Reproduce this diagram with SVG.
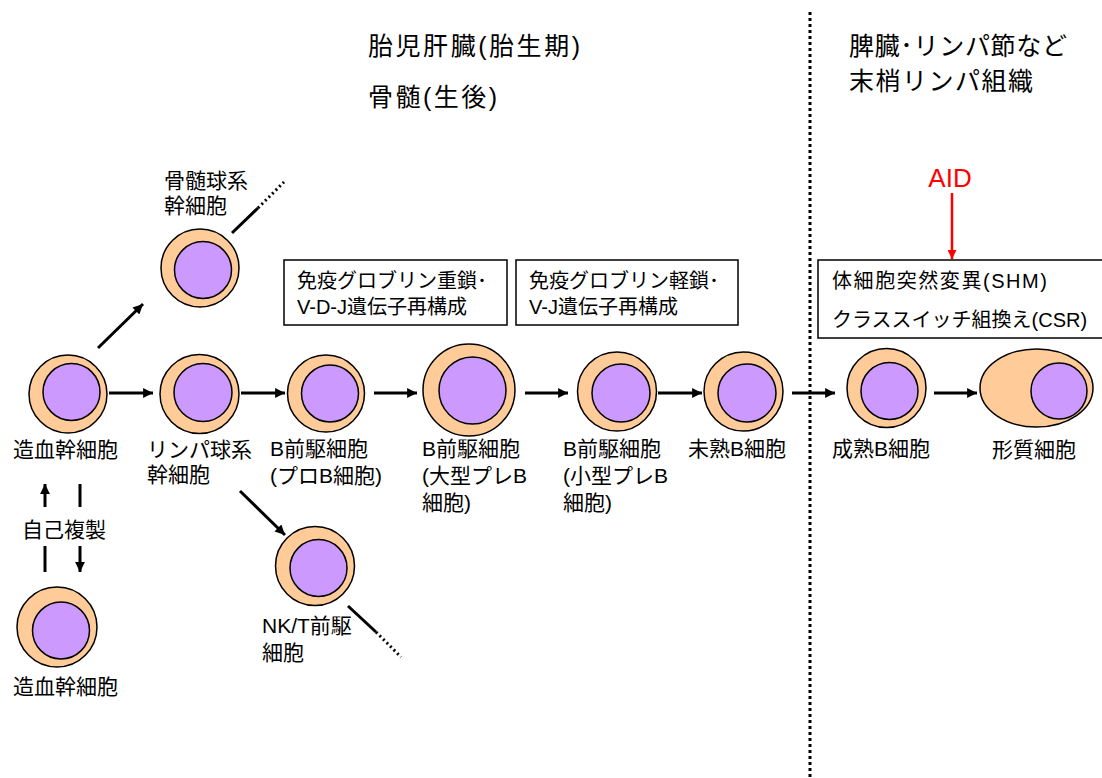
<svg xmlns="http://www.w3.org/2000/svg" width="1102" height="778" viewBox="0 0 1102 778">
  <style>
    text { font-family: "Liberation Sans", "Noto Sans CJK JP", sans-serif; fill: #000; }
    .lbl { font-size: 21px; }
    .box-text { font-size: 20px; }
    .head { font-size: 25px; }
    .aid { font-size: 26px; fill: #FF0000; }
    .cyto { fill: #FFCC99; stroke: #000; stroke-width: 1.5; }
    .nuc { fill: #CC99FF; stroke: #000; stroke-width: 1.5; }
    .box { fill: #FFFFFF; stroke: #000; stroke-width: 1.5; }
    .arrow { stroke: #000; stroke-width: 3; fill: none; marker-end: url(#head); }
    .line { stroke: #000; stroke-width: 3; fill: none; }
    .dots { stroke: #000; stroke-width: 3; fill: none; stroke-dasharray: 2 3; }
    .divider { stroke: #000; stroke-width: 3; fill: none; stroke-dasharray: 3 3; }
    .red-arrow { stroke: #FF0000; stroke-width: 2.5; fill: none; marker-end: url(#headRed); }
  </style>
  <defs>
    <marker id="head" viewBox="0 0 10 10" refX="10" refY="5" markerWidth="4" markerHeight="3.3" orient="auto" markerUnits="strokeWidth">
      <path d="M0,0 L10,5 L0,10 z" fill="#000"/>
    </marker>
    <marker id="headRed" viewBox="0 0 10 10" refX="10" refY="5" markerWidth="4" markerHeight="3.6" orient="auto" markerUnits="strokeWidth">
      <path d="M0,0 L10,5 L0,10 z" fill="#FF0000"/>
    </marker>
  </defs>

  <rect width="1102" height="778" fill="#FFFFFF"/>

  <!-- region headings and divider -->
  <g id="headings">
    <text class="head" x="368" y="55" textLength="212" lengthAdjust="spacing">胎児肝臓(胎生期)</text>
    <text class="head" x="368" y="106" textLength="129" lengthAdjust="spacing">骨髄(生後)</text>
    <text class="head" x="849" y="55" textLength="218" lengthAdjust="spacing">脾臓･リンパ節など</text>
    <text class="head" x="849" y="90" textLength="184" lengthAdjust="spacing">末梢リンパ組織</text>
  </g>
  <line class="divider" x1="810" y1="12" x2="810" y2="778"/>

  <!-- annotation boxes -->
  <g id="box-heavy">
    <rect class="box" x="284" y="260" width="223" height="65"/>
    <text class="box-text" x="297" y="288">免疫グロブリン重鎖･</text>
    <text class="box-text" x="297" y="314">V-D-J遺伝子再構成</text>
  </g>
  <g id="box-light">
    <rect class="box" x="516" y="260" width="222" height="65"/>
    <text class="box-text" x="529" y="288">免疫グロブリン軽鎖･</text>
    <text class="box-text" x="529" y="314">V-J遺伝子再構成</text>
  </g>
  <g id="box-shm">
    <rect class="box" x="818" y="260" width="300" height="78"/>
    <text class="box-text" x="832" y="288" textLength="215" lengthAdjust="spacing">体細胞突然変異(SHM)</text>
    <text class="box-text" x="832" y="327">クラススイッチ組換え(CSR)</text>
  </g>
  <g id="aid">
    <text class="aid" x="950" y="187" text-anchor="middle">AID</text>
  </g>

  <!-- cells -->
  <g id="hsc">
    <circle class="cyto" cx="68" cy="394" r="39"/>
    <circle class="nuc" cx="71.5" cy="392" r="28.5"/>
    <text class="lbl" x="13" y="457">造血幹細胞</text>
  </g>
  <g id="myeloid-stem">
    <text class="lbl" x="164" y="188">骨髄球系</text>
    <text class="lbl" x="164" y="213">幹細胞</text>
    <circle class="cyto" cx="200" cy="268" r="39"/>
    <circle class="nuc" cx="203" cy="270" r="28.5"/>
  </g>
  <g id="lymphoid-stem">
    <circle class="cyto" cx="199.5" cy="394" r="39.5"/>
    <circle class="nuc" cx="203" cy="392.5" r="29"/>
    <text class="lbl" x="147" y="457">リンパ球系</text>
    <text class="lbl" x="147" y="482">幹細胞</text>
  </g>
  <g id="pro-b">
    <circle class="cyto" cx="326" cy="393.5" r="38.5"/>
    <circle class="nuc" cx="330" cy="393.5" r="28.5"/>
    <text class="lbl" x="270" y="456">B前駆細胞</text>
    <text class="lbl" x="270" y="483">(プロB細胞)</text>
  </g>
  <g id="large-pre-b">
    <circle class="cyto" cx="469" cy="390" r="46"/>
    <circle class="nuc" cx="472.5" cy="390.5" r="33.5"/>
    <text class="lbl" x="422" y="456">B前駆細胞</text>
    <text class="lbl" x="422" y="483">(大型プレB</text>
    <text class="lbl" x="422" y="510">細胞)</text>
  </g>
  <g id="small-pre-b">
    <circle class="cyto" cx="617" cy="391.5" r="39.5"/>
    <circle class="nuc" cx="621" cy="393" r="29"/>
    <text class="lbl" x="563" y="456">B前駆細胞</text>
    <text class="lbl" x="563" y="483">(小型プレB</text>
    <text class="lbl" x="563" y="510">細胞)</text>
  </g>
  <g id="immature-b">
    <circle class="cyto" cx="743.5" cy="391.5" r="39.5"/>
    <circle class="nuc" cx="747" cy="393" r="29"/>
    <text class="lbl" x="688" y="456">未熟B細胞</text>
  </g>
  <g id="mature-b">
    <circle class="cyto" cx="886.5" cy="388" r="39.5"/>
    <circle class="nuc" cx="889.5" cy="391" r="28.5"/>
    <text class="lbl" x="832" y="456">成熟B細胞</text>
  </g>
  <g id="plasma">
    <ellipse class="cyto" cx="1036.5" cy="388" rx="56.5" ry="39"/>
    <circle class="nuc" cx="1059" cy="391" r="28"/>
    <text class="lbl" x="992" y="457">形質細胞</text>
  </g>
  <g id="nkt-precursor">
    <circle class="cyto" cx="315" cy="566" r="39.5"/>
    <circle class="nuc" cx="318.5" cy="568" r="28.5"/>
    <text class="lbl" x="262" y="633">NK/T前駆</text>
    <text class="lbl" x="262" y="660">細胞</text>
  </g>
  <g id="hsc-renewed">
    <circle class="cyto" cx="57" cy="627" r="40"/>
    <circle class="nuc" cx="61" cy="630.5" r="28.5"/>
    <text class="lbl" x="13" y="694">造血幹細胞</text>
  </g>
  <g id="self-renewal">
    <text class="lbl" x="22" y="537">自己複製</text>
  </g>

  <!-- connectors -->
  <g id="connectors">
    <line class="arrow" x1="109" y1="393" x2="153" y2="393"/>
    <line class="arrow" x1="241" y1="393" x2="285" y2="393"/>
    <line class="arrow" x1="374" y1="393" x2="417" y2="393"/>
    <line class="arrow" x1="525" y1="393" x2="568" y2="393"/>
    <line class="arrow" x1="658" y1="393" x2="702" y2="393"/>
    <line class="arrow" x1="792" y1="393" x2="835" y2="393"/>
    <line class="arrow" x1="934" y1="393" x2="977" y2="393"/>
    <line class="arrow" x1="98" y1="348" x2="143" y2="304"/>
    <line class="arrow" x1="240" y1="491" x2="285" y2="535"/>
    <!-- self-renewal loop -->
    <line class="arrow" x1="45" y1="507" x2="45" y2="484"/>
    <line class="line" x1="45" y1="546" x2="45" y2="572"/>
    <line class="line" x1="80" y1="484" x2="80" y2="507"/>
    <line class="arrow" x1="80" y1="546" x2="80" y2="572"/>
    <!-- open-ended lineages -->
    <line class="line" x1="232" y1="233" x2="258" y2="208"/>
    <line class="dots" x1="258" y1="208" x2="284" y2="182"/>
    <line class="line" x1="348" y1="606" x2="376" y2="632"/>
    <line class="dots" x1="376" y1="632" x2="401" y2="657"/>
    <!-- AID acts on SHM / CSR -->
    <line class="red-arrow" x1="952" y1="193" x2="952" y2="259"/>
  </g>
</svg>
